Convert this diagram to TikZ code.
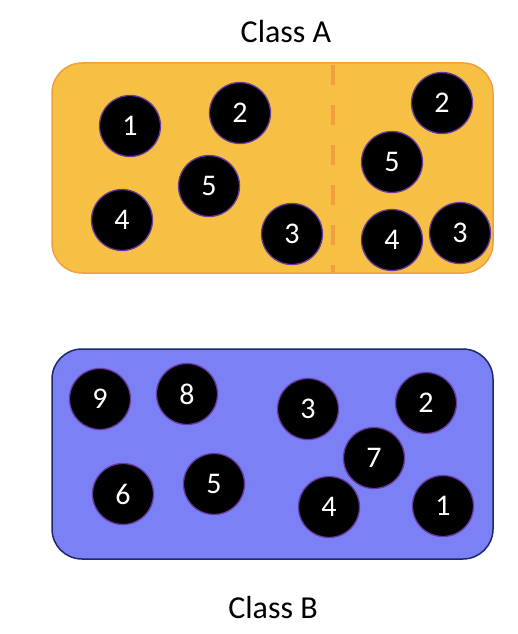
\documentclass[tikz,border=0pt]{standalone}
\usepackage{fontspec}
\setmainfont{Carlito}
\usepackage{tikz}
\definecolor{naranja}{HTML}{F5C043}
\definecolor{naranjaborde}{HTML}{F0A040}
\definecolor{azul}{HTML}{7B80F5}
\definecolor{azulborde}{HTML}{1A2A6A}
\definecolor{morado}{HTML}{6A3AA0}
\tikzstyle{claseA} = [draw=naranjaborde, fill=naranja, line width=1.5pt, rectangle, rounded corners=30pt, minimum width=441pt, minimum height=210pt]
\tikzstyle{claseB} = [draw=azulborde, fill=azul, line width=1.5pt, rectangle, rounded corners=30pt, minimum width=441pt, minimum height=210pt]
\tikzstyle{bola} = [circle, fill=black, draw=morado, line width=1.3pt, minimum size=61pt, inner sep=0pt, text=white, font=\fontsize{30}{30}\selectfont]
\tikzstyle{titulo} = [font=\fontsize{32}{32}\selectfont]
\tikzstyle{divisor} = [draw=naranjaborde, line width=4pt, dash pattern=on 20pt off 20pt, dash phase=-2pt]

\begin{document}
\begin{tikzpicture}[x=1pt, y=-1pt]
	\useasboundingbox (0,0) rectangle (518,634);
	% clase A
	\node[titulo] (tituloA) at (286,32) {Class A};
	\node[claseA] (boxA) at (272.5,168) {};
	\coordinate (corteN) at (333,63);
	\coordinate (corteS) at (333,273);
	\draw[divisor] (corteN) -- (corteS);
	\node[bola] (a1) at (130,126) {1};
	\node[bola] (a2) at (240,113) {2};
	\node[bola] (a5) at (209,186) {5};
	\node[bola] (a4) at (122,220) {4};
	\node[bola] (a3) at (292,234) {3};
	\node[bola] (b2) at (442,103) {2};
	\node[bola] (b5) at (392,162) {5};
	\node[bola] (b4) at (392,240) {4};
	\node[bola] (b3) at (460,233) {3};
	% clase B
	\node[claseB] (boxB) at (272.5,454) {};
	\node[titulo] (tituloB) at (273,607) {Class B};
	\node[bola] (c9) at (100,399) {9};
	\node[bola] (c8) at (187,394) {8};
	\node[bola] (c3) at (308,409) {3};
	\node[bola] (c2) at (426,403) {2};
	\node[bola] (c7) at (374,458) {7};
	\node[bola] (c6) at (123,494) {6};
	\node[bola] (c5) at (214,484) {5};
	\node[bola] (c4) at (329,507) {4};
	\node[bola] (c1) at (443,506) {1};
\end{tikzpicture}
\end{document}
